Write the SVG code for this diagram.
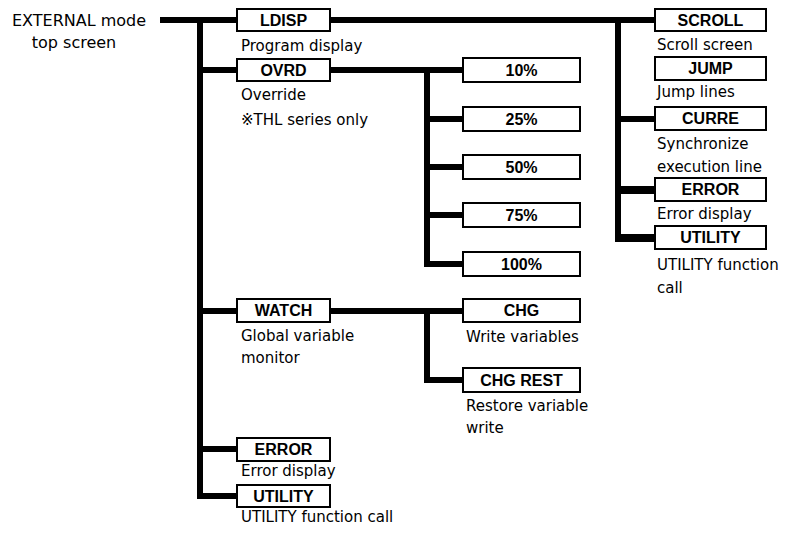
<svg xmlns="http://www.w3.org/2000/svg" width="798" height="533" viewBox="0 0 798 533">
<style>
.bx{fill:#fff;stroke:#000;stroke-width:2}
.bl{font-family:"Liberation Sans",Arial,sans-serif;font-weight:bold;font-size:16px;text-anchor:middle;fill:#000}
.t{font-family:"DejaVu Sans","Noto Sans CJK JP",sans-serif;font-size:15px;fill:#000}
.big{font-size:16px;text-anchor:middle}
.ln{stroke:#000;stroke-width:6;fill:none}
.lw{stroke:#000;stroke-width:8;fill:none}
</style>
<rect width="798" height="533" fill="#fff"/>
<g id="connectors">
<line class="ln" x1="160" y1="20" x2="237" y2="20"/>
<line class="ln" x1="200" y1="17" x2="200" y2="499"/>
<line class="ln" x1="197" y1="70" x2="237" y2="70"/>
<line class="ln" x1="197" y1="311" x2="237" y2="311"/>
<line class="ln" x1="197" y1="449" x2="237" y2="449"/>
<line class="ln" x1="197" y1="496" x2="237" y2="496"/>
<line class="ln" x1="330" y1="20" x2="655" y2="20"/>
<line class="ln" x1="618" y1="20" x2="618" y2="242"/>
<line class="ln" x1="615" y1="119" x2="655" y2="119"/>
<line class="lw" x1="615" y1="190" x2="655" y2="190"/>
<line class="lw" x1="615" y1="238" x2="655" y2="238"/>
<line class="ln" x1="330" y1="70" x2="463" y2="70"/>
<line class="ln" x1="427" y1="70" x2="427" y2="267"/>
<line class="ln" x1="424" y1="119" x2="463" y2="119"/>
<line class="ln" x1="424" y1="167" x2="463" y2="167"/>
<line class="ln" x1="424" y1="215" x2="463" y2="215"/>
<line class="ln" x1="424" y1="264" x2="463" y2="264"/>
<line class="ln" x1="330" y1="311" x2="463" y2="311"/>
<line class="ln" x1="427" y1="311" x2="427" y2="383"/>
<line class="ln" x1="424" y1="380" x2="463" y2="380"/>
</g>
<g id="root">
<text class="t big" x="79" y="26">EXTERNAL mode</text>
<text class="t big" x="74" y="48">top screen</text>
</g>
<g id="ldisp"><rect class="bx" x="237" y="9" width="93" height="22"/><text class="bl" x="283.5" y="26">LDISP</text><text class="t" x="241" y="51">Program display</text></g>
<g id="ovrd"><rect class="bx" x="237" y="59" width="93" height="22"/><text class="bl" x="283.5" y="76">OVRD</text><text class="t" x="241" y="100">Override</text><text class="t" x="241" y="125">※THL series only</text></g>
<g id="p10"><rect class="bx" x="463" y="58" width="117" height="24"/><text class="bl" x="521.5" y="76">10%</text></g>
<g id="p25"><rect class="bx" x="463" y="107" width="117" height="24"/><text class="bl" x="521.5" y="125">25%</text></g>
<g id="p50"><rect class="bx" x="463" y="155" width="117" height="24"/><text class="bl" x="521.5" y="173">50%</text></g>
<g id="p75"><rect class="bx" x="463" y="203" width="117" height="24"/><text class="bl" x="521.5" y="221">75%</text></g>
<g id="p100"><rect class="bx" x="463" y="252" width="117" height="24"/><text class="bl" x="521.5" y="270">100%</text></g>
<g id="scroll"><rect class="bx" x="655" y="9" width="111" height="22"/><text class="bl" x="710.5" y="26">SCROLL</text><text class="t" x="657" y="50">Scroll screen</text></g>
<g id="jump"><rect class="bx" x="655" y="57" width="111" height="23"/><text class="bl" x="710.5" y="74">JUMP</text><text class="t" x="657" y="97">Jump lines</text></g>
<g id="curre"><rect class="bx" x="655" y="107" width="111" height="23"/><text class="bl" x="710.5" y="124">CURRE</text><text class="t" x="657" y="149">Synchronize</text><text class="t" x="657" y="172">execution line</text></g>
<g id="error_r"><rect class="bx" x="655" y="178" width="111" height="23"/><text class="bl" x="710.5" y="195">ERROR</text><text class="t" x="657" y="219">Error display</text></g>
<g id="utility_r"><rect class="bx" x="655" y="226" width="111" height="23"/><text class="bl" x="710.5" y="243">UTILITY</text><text class="t" x="657" y="270">UTILITY function</text><text class="t" x="657" y="293">call</text></g>
<g id="watch"><rect class="bx" x="237" y="299" width="93" height="23"/><text class="bl" x="283.5" y="316">WATCH</text><text class="t" x="241" y="341">Global variable</text><text class="t" x="241" y="363">monitor</text></g>
<g id="chg"><rect class="bx" x="463" y="299" width="117" height="23"/><text class="bl" x="521.5" y="316">CHG</text><text class="t" x="466" y="342">Write variables</text></g>
<g id="chgrest"><rect class="bx" x="463" y="368" width="117" height="24"/><text class="bl" x="521.5" y="386">CHG REST</text><text class="t" x="466" y="411">Restore variable</text><text class="t" x="466" y="433">write</text></g>
<g id="error_l"><rect class="bx" x="237" y="438" width="93" height="23"/><text class="bl" x="283.5" y="455">ERROR</text><text class="t" x="241" y="476">Error display</text></g>
<g id="utility_l"><rect class="bx" x="237" y="485" width="93" height="22"/><text class="bl" x="283.5" y="502">UTILITY</text><text class="t" x="241" y="522">UTILITY function call</text></g>
</svg>
